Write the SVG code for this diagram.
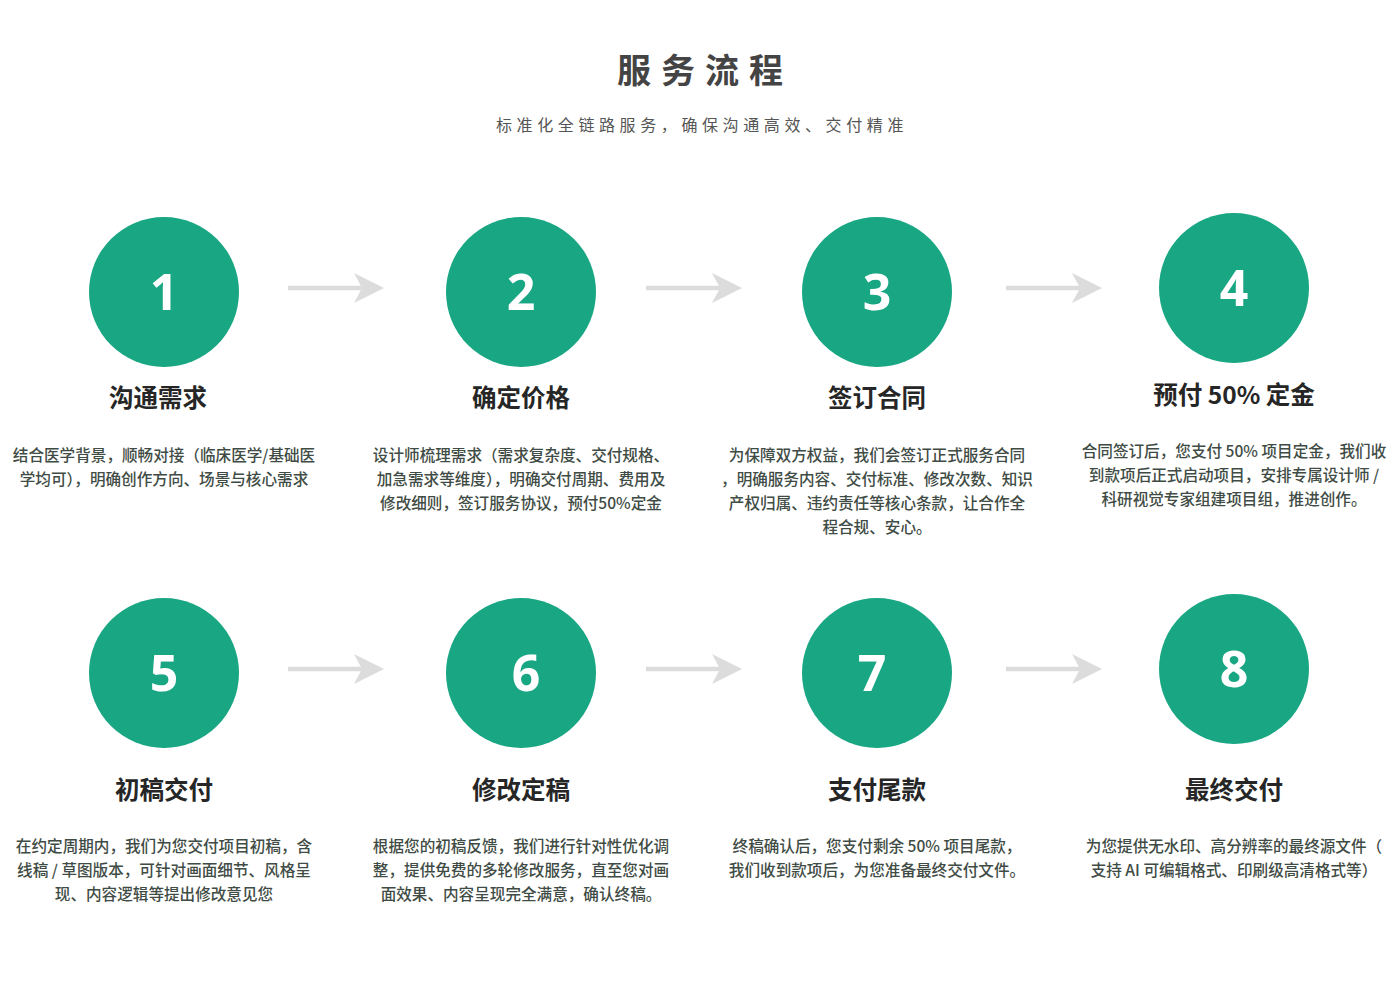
<svg xmlns="http://www.w3.org/2000/svg" xmlns:xlink="http://www.w3.org/1999/xlink" width="1400" height="981" viewBox="0 0 1400 981">
<style>
.cjk{font-family:"Noto Sans CJK SC","Noto Sans",sans-serif}
.h1{font-size:34px;font-weight:700;fill:#444;letter-spacing:10px}
.sub{font-size:16px;fill:#555;letter-spacing:4.6px}
.circ{fill:#18a683}
.num{font-family:"Noto Sans","Open Sans",sans-serif;font-size:50px;font-weight:700;fill:#fff;text-anchor:middle}
.t{font-size:24.5px;font-weight:700;fill:#262626;text-anchor:middle}
.d{font-size:15.6px;font-weight:500;fill:#3f4c45;text-anchor:middle}
.ln{stroke:#dcdcdc;stroke-width:4.5;fill:none}
.hd{fill:#dcdcdc}
</style>
<defs>
<g id="arrow">
<line class="ln" x1="0" y1="0" x2="84" y2="0"/>
<polygon class="hd" points="96,0 66,-15 74,0 66,15"/>
</g>
</defs>
<rect width="1400" height="981" fill="#fff"/>
<g id="header" class="cjk">
<text class="h1" x="705" y="83" text-anchor="middle">服务流程</text>
<text class="sub" x="702" y="131" text-anchor="middle">标准化全链路服务，确保沟通高效、交付精准</text>
</g>
<g id="connectors">
<use xlink:href="#arrow" x="288" y="288"/>
<use xlink:href="#arrow" x="646" y="288"/>
<use xlink:href="#arrow" x="1006" y="288"/>
<use xlink:href="#arrow" x="288" y="669"/>
<use xlink:href="#arrow" x="646" y="669"/>
<use xlink:href="#arrow" x="1006" y="669"/>
</g>
<g id="step1" class="cjk">
<circle class="circ" cx="164" cy="292" r="75"/>
<text class="num" x="164" y="310">1</text>
<text class="t" x="158" y="407">沟通需求</text>
<text class="d" x="164" y="461">结合医学背景，顺畅对接（临床医学/基础医</text>
<text class="d" x="164" y="485">学均可），明确创作方向、场景与核心需求</text>
</g>
<g id="step2" class="cjk">
<circle class="circ" cx="521" cy="292" r="75"/>
<text class="num" x="521" y="310">2</text>
<text class="t" x="521" y="407">确定价格</text>
<text class="d" x="521" y="461">设计师梳理需求（需求复杂度、交付规格、</text>
<text class="d" x="521" y="485">加急需求等维度），明确交付周期、费用及</text>
<text class="d" x="521" y="509">修改细则，签订服务协议，预付50%定金</text>
</g>
<g id="step3" class="cjk">
<circle class="circ" cx="877" cy="292" r="75"/>
<text class="num" x="877" y="310">3</text>
<text class="t" x="877" y="407">签订合同</text>
<text class="d" x="877" y="461">为保障双方权益，我们会签订正式服务合同</text>
<text class="d" x="877" y="485">，明确服务内容、交付标准、修改次数、知识</text>
<text class="d" x="877" y="509">产权归属、违约责任等核心条款，让合作全</text>
<text class="d" x="877" y="533">程合规、安心。</text>
</g>
<g id="step4" class="cjk">
<circle class="circ" cx="1234" cy="288" r="75"/>
<text class="num" x="1234" y="306">4</text>
<text class="t" x="1234" y="404">预付 50% 定金</text>
<text class="d" x="1234" y="457">合同签订后，您支付 50% 项目定金，我们收</text>
<text class="d" x="1234" y="481">到款项后正式启动项目，安排专属设计师 /</text>
<text class="d" x="1234" y="505">科研视觉专家组建项目组，推进创作。</text>
</g>
<g id="step5" class="cjk">
<circle class="circ" cx="164" cy="673" r="75"/>
<text class="num" x="164" y="691">5</text>
<text class="t" x="164" y="799">初稿交付</text>
<text class="d" x="164" y="852">在约定周期内，我们为您交付项目初稿，含</text>
<text class="d" x="164" y="876">线稿 / 草图版本，可针对画面细节、风格呈</text>
<text class="d" x="164" y="900">现、内容逻辑等提出修改意见您</text>
</g>
<g id="step6" class="cjk">
<circle class="circ" cx="521" cy="673" r="75"/>
<text class="num" x="526" y="691">6</text>
<text class="t" x="521" y="799">修改定稿</text>
<text class="d" x="521" y="852">根据您的初稿反馈，我们进行针对性优化调</text>
<text class="d" x="521" y="876">整，提供免费的多轮修改服务，直至您对画</text>
<text class="d" x="521" y="900">面效果、内容呈现完全满意，确认终稿。</text>
</g>
<g id="step7" class="cjk">
<circle class="circ" cx="877" cy="673" r="75"/>
<text class="num" x="872" y="691">7</text>
<text class="t" x="877" y="799">支付尾款</text>
<text class="d" x="877" y="852">终稿确认后，您支付剩余 50% 项目尾款，</text>
<text class="d" x="877" y="876">我们收到款项后，为您准备最终交付文件。</text>
</g>
<g id="step8" class="cjk">
<circle class="circ" cx="1234" cy="669" r="75"/>
<text class="num" x="1234" y="687">8</text>
<text class="t" x="1234" y="799">最终交付</text>
<text class="d" x="1234" y="852">为您提供无水印、高分辨率的最终源文件（</text>
<text class="d" x="1234" y="876">支持 AI 可编辑格式、印刷级高清格式等）</text>
</g>
</svg>
